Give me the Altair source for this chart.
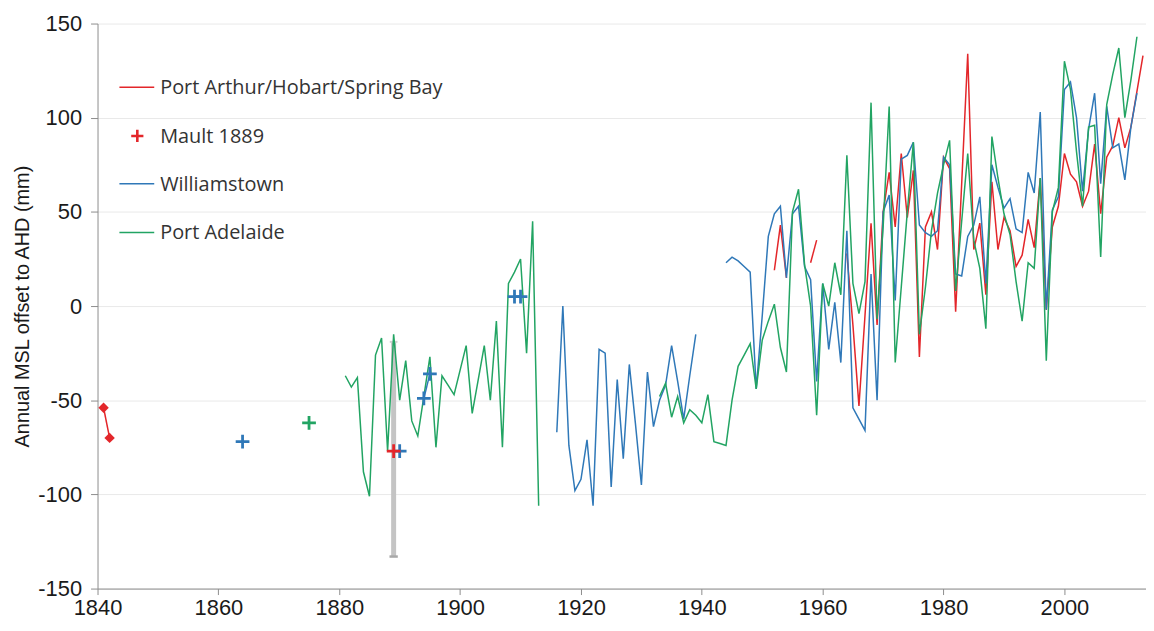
import altair as alt
import pandas as pd

# ---------------- data ----------------
# Port Arthur / Hobart / Spring Bay (red)
PA_EARLY_YEARS = [1841, 1842]
PA_EARLY = [-54, -70]
PA1_YEARS = [1952, 1953, 1954]
PA1 = [19, 43, 15]
PA2_YEARS = [1958, 1959]
PA2 = [23, 35]
PA3_YEARS = list(range(1964, 2014))
PA3 = [28, -10, -53, -5, 44, -10, 50, 71, 42, 81,
       47, 72, -27, 42, 50, 30, 79, 73, -3, 65,
       134, 30, 44, 6, 66, 30, 47, 40, 21, 27,
       46, 31, 68, -2, 42, 53, 81, 70, 66, 53,
       61, 86, 49, 79, 85, 100, 84, 95, 114, 133]

# Mault 1889 (red cross with grey range)
MAULT_YEAR = [1889]
MAULT = [-77]
MAULT_LOW = [-133]
MAULT_HIGH = [-19]

# Williamstown (blue)
WT_MARK_YEARS = [1864, 1890, 1894, 1895, 1909, 1910]
WT_MARK = [-72, -77, -49, -36, 5, 5]
WT_MARK_SEG = [1, 2, 3, 3, 4, 4]
WT1_YEARS = list(range(1916, 1940))
WT1 = [-67, 0, -74, -98, -92, -71, -106, -23, -25, -96,
       -39, -81, -31, -62, -95, -35, -64, -50, -42, -21,
       -40, -60, -37, -15]
WT2_YEARS = list(range(1944, 2013))
WT2 = [23, 26, 24, 21, 18, -44, -5, 37, 49, 53,
       15, 49, 53, 21, 14, -40, 12, -23, 2, -30,
       40, -54, -60, -66, 17, -50, 50, 59, 3, 78,
       80, 87, 43, 39, 37, 40, 79, 75, 17, 16,
       37, 43, 58, 12, 75, 63, 52, 57, 41, 39,
       71, 60, 103, -2, 51, 58, 115, 119, 100, 61,
       94, 113, 65, 106, 84, 86, 67, 95, 113]

# Port Adelaide (green)
AD_MARK_YEARS = [1875]
AD_MARK = [-62]
AD1_YEARS = list(range(1881, 1914))
AD1 = [-37, -43, -38, -88, -101, -26, -17, -77, -15, -50, -29,
       -61, -69, -48, -27, -75, -37, -42, -47, -34, -21,
       -57, -39, -21, -50, -8, -75, 12, 18, 25, -25,
       45, -106]
AD2_YEARS = list(range(1933, 2013))
AD2 = [-48, -41, -59, -48, -62, -55, -58, -62, -47, -72,
       -73, -74, -50, -32, -26, -20, -44, -18, -8, 1,
       -22, -35, 50, 62, 22, 0, -58, 12, 0, 23,
       6, 80, 12, -4, 13, 108, -7, 42, 106, -30,
       10, 50, 87, -15, 10, 40, 60, 75, 88, 8,
       45, 81, 35, 20, -12, 90, 68, 49, 38, 13,
       -8, 23, 20, 68, -29, 50, 63, 130, 115, 82,
       53, 95, 96, 26, 107, 123, 137, 100, 120, 143]

LEGEND_LABELS = ["Port Arthur/Hobart/Spring Bay", "Mault 1889", "Williamstown", "Port Adelaide"]

RED = "#e3262a"
BLUE = "#2f78b8"
GREEN = "#22a463"
GREY = "#c4c4c4"


def seg(years, vals, s):
    return pd.DataFrame({"year": years, "val": vals, "seg": s})


red_df = pd.concat([seg(PA_EARLY_YEARS, PA_EARLY, 0), seg(PA1_YEARS, PA1, 1),
                    seg(PA2_YEARS, PA2, 2), seg(PA3_YEARS, PA3, 3)])
blue_df = pd.concat([seg(WT1_YEARS, WT1, 10), seg(WT2_YEARS, WT2, 11)])
blue_mark_df = pd.DataFrame({"year": WT_MARK_YEARS, "val": WT_MARK, "seg": WT_MARK_SEG})
green_df = pd.concat([seg(AD1_YEARS, AD1, 20), seg(AD2_YEARS, AD2, 21)])
green_mark_df = pd.DataFrame({"year": AD_MARK_YEARS, "val": AD_MARK})
diam_df = pd.DataFrame({"year": PA_EARLY_YEARS, "val": PA_EARLY})
mault_df = pd.DataFrame({"year": MAULT_YEAR, "val": MAULT, "lo": MAULT_LOW, "hi": MAULT_HIGH})

FONT = "Liberation Sans"
xscale = alt.Scale(domain=[1840, 2013.5], nice=False, zero=False)
yscale = alt.Scale(domain=[-150, 150], nice=False)

X = alt.X("year:Q", scale=xscale,
          axis=alt.Axis(values=list(range(1840, 2001, 20)), format="d", grid=False,
                        domainColor="#8c8c8c", tickColor="#8c8c8c", tickSize=6,
                        labelFont=FONT, labelFontSize=22, labelColor="#1a1a1a",
                        labelFlush=False, labelOverlap=False,
                        labelPadding=3, title=None))
Y = alt.Y("val:Q", scale=yscale,
          axis=alt.Axis(values=list(range(-150, 151, 50)), grid=True, gridColor="#e9e9e9",
                        domainColor="#8c8c8c", tickColor="#8c8c8c", tickSize=7,
                        labelFont=FONT, labelFontSize=22, labelColor="#1a1a1a",
                        labelExpr="toString(datum.value)", labelFlush=False,
                        labelPadding=9, title="Annual MSL offset to AHD (mm)",
                        titleFont=FONT, titleFontSize=20, titleFontWeight="normal",
                        titleColor="#1a1a1a", titlePadding=5))

PLUS = "M-1,0L1,0M0,-1L0,1"
HLINE = "M-1,0L1,0"

base_red = alt.Chart(red_df).mark_line(color=RED, strokeWidth=1.5).encode(
    x=X, y=Y, detail="seg:N", order="year:Q")

err = alt.Chart(mault_df).mark_rule(color=GREY, strokeWidth=5).encode(
    x="year:Q", y="lo:Q", y2="hi:Q")
cap_lo = alt.Chart(mault_df).mark_point(shape=HLINE, size=70, color="#a8a8a8",
                                        strokeWidth=2.5, filled=False, opacity=1).encode(
    x="year:Q", y="lo:Q")
cap_hi = alt.Chart(mault_df).mark_point(shape=HLINE, size=60, color="#d0d0d0",
                                        strokeWidth=2, filled=False, opacity=1).encode(
    x="year:Q", y="hi:Q")

blue_line = alt.Chart(blue_df).mark_line(color=BLUE, strokeWidth=1.5).encode(
    x="year:Q", y="val:Q", detail="seg:N", order="year:Q")
green_line = alt.Chart(green_df).mark_line(color=GREEN, strokeWidth=1.5).encode(
    x="year:Q", y="val:Q", detail="seg:N", order="year:Q")

diamonds = alt.Chart(diam_df).mark_point(shape="diamond", filled=True, color=RED,
                                         size=110, opacity=1).encode(x="year:Q", y="val:Q")

blue_mark_line = alt.Chart(blue_mark_df).mark_line(color=BLUE, strokeWidth=1.5).encode(
    x="year:Q", y="val:Q", detail="seg:N", order="year:Q")
blue_marks = alt.Chart(blue_mark_df).mark_point(shape=PLUS, filled=False, color=BLUE,
                                                size=190, strokeWidth=2.8, opacity=1).encode(
    x="year:Q", y="val:Q")
green_marks = alt.Chart(green_mark_df).mark_point(shape=PLUS, filled=False, color=GREEN,
                                                  size=190, strokeWidth=2.8, opacity=1).encode(
    x="year:Q", y="val:Q")
mault_mark = alt.Chart(mault_df).mark_point(shape=PLUS, filled=False, color=RED,
                                            size=190, strokeWidth=2.8, opacity=1).encode(
    x="year:Q", y="val:Q")

# ---------------- legend (inside plot, top-left) ----------------
leg_df = pd.DataFrame({"label": LEGEND_LABELS, "i": [0, 1, 2, 3]})
LEG_Y = [64, 113, 161, 210]
legend_layers = []
for i, (lab, col) in enumerate(zip(LEGEND_LABELS, [RED, RED, BLUE, GREEN])):
    d = leg_df[leg_df["i"] == i]
    if i == 1:
        legend_layers.append(alt.Chart(d).mark_point(shape=PLUS, filled=False, color=col,
                                                     size=150, strokeWidth=2.6, opacity=1).encode(
            x=alt.value(40), y=alt.value(LEG_Y[i])))
    else:
        legend_layers.append(alt.Chart(d).mark_rule(color=col, strokeWidth=1.5).encode(
            x=alt.value(22), x2=alt.value(57), y=alt.value(LEG_Y[i])))
    legend_layers.append(alt.Chart(d).mark_text(align="left", baseline="middle",
                                                font="Open Sans", fontSize=20,
                                                color="#333333").encode(
        x=alt.value(63), y=alt.value(LEG_Y[i] + 1), text="label:N"))

chart = alt.layer(
    base_red, err, cap_lo, cap_hi, blue_line, green_line, diamonds,
    blue_mark_line, blue_marks, green_marks, mault_mark, *legend_layers
).properties(
    width=1054, height=568,
    padding={"left": 90, "top": 14, "right": 0, "bottom": 36},
    autosize=alt.AutoSizeParams(type="none"),
    background="white",
).configure_view(strokeWidth=0)

chart.save("out.html", embed_options={"renderer": "svg", "actions": False})
